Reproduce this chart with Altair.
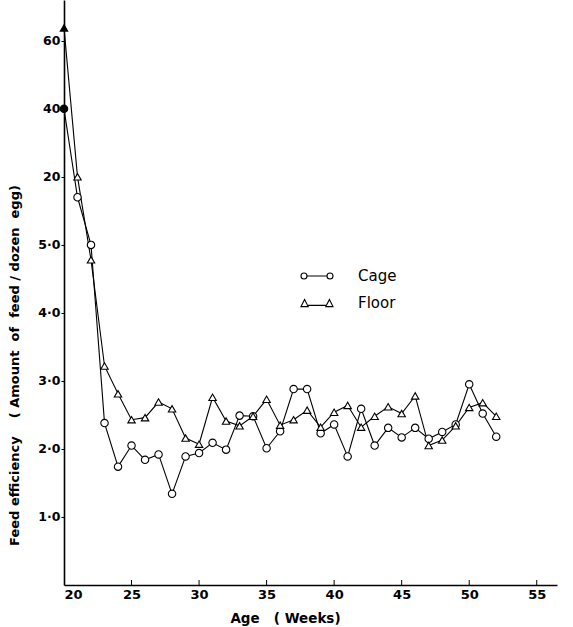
import altair as alt
import pandas as pd

# ---- data ----
weeks = list(range(20, 53))
# y positions on the drawn axis (1..5 = 1·0..5·0 ; 6,7,8 = ticks labelled 20, 40, 60)
cage = [7.0, 5.70, 5.0, 2.38, 1.74, 2.05, 1.84, 1.92, 1.34, 1.89, 1.94,
        2.09, 1.99, 2.49, 2.48, 2.01, 2.26, 2.88, 2.88, 2.23, 2.36,
        1.89, 2.59, 2.05, 2.31, 2.17, 2.31, 2.15, 2.25, 2.36, 2.95,
        2.52, 2.18]
floor = [8.19, 6.0, 4.78, 3.22, 2.81, 2.43, 2.46, 2.69, 2.59, 2.16, 2.07,
         2.76, 2.41, 2.34, 2.48, 2.73, 2.35, 2.43, 2.57, 2.32, 2.54,
         2.64, 2.32, 2.48, 2.62, 2.52, 2.78, 2.05, 2.13, 2.34, 2.61,
         2.68, 2.48]
series_names = ["Cage", "Floor"]
y_tick_values = [1, 2, 3, 4, 5, 6, 7, 8]
y_tick_labels = ["1·0", "2·0", "3·0", "4·0", "5·0", "20", "40", "60"]
x_tick_values = [20, 25, 30, 35, 40, 45, 50, 55]

df = pd.DataFrame({
    "week": weeks * 2,
    "value": cage + floor,
    "series": [series_names[0]] * len(weeks) + [series_names[1]] * len(weeks),
})
df["first"] = df["week"] == weeks[0]

FONT = "DejaVu Sans"
NB = "\u00a0"
label_expr = " : ".join(
    f"datum.value == {v} ? '{l}'" for v, l in zip(y_tick_values, y_tick_labels)
) + " : ''"

y_title = ("Feed" + NB + "efficiency" + NB * 4 + "(" + NB + "Amount" + NB * 2 + "of"
           + NB * 2 + "feed" + NB + "/" + NB + "dozen" + NB * 2 + "egg)")
x_title = "Age" + NB * 3 + "(" + NB + "Weeks)"

x_enc = alt.X(
    "week:Q",
    scale=alt.Scale(domain=[20, 56.5], nice=False, zero=False),
    axis=alt.Axis(
        values=x_tick_values, format="d", ticks=False, grid=False,
        labelFont=FONT, labelFontWeight="bold", labelFontSize=13,
        labelPadding=3, domainWidth=1.6,
        title=x_title, titleFont=FONT, titleFontWeight="bold",
        titleFontSize=13.5, titleX=221, titleY=37, titleAlign="center",
        titleBaseline="alphabetic",
    ),
)
y_enc = alt.Y(
    "value:Q",
    scale=alt.Scale(domain=[0, 8.6], nice=False, zero=True),
    axis=alt.Axis(
        values=y_tick_values, labelExpr=label_expr, grid=False,
        labelFont=FONT, labelFontWeight="bold", labelFontSize=12.5,
        tickSize=3, labelPadding=1, domainWidth=1.6,
        title=y_title,
        titleFont=FONT, titleFontWeight="bold", titleFontSize=13,
        titleAngle=270, titleX=-50, titleY=365, titleAlign="center",
        titleBaseline="middle",
    ),
)

lines = alt.Chart(df).mark_line(color="black", strokeWidth=1.1).encode(
    x=x_enc, y=y_enc, detail="series:N"
)

points = alt.Chart(df).mark_point(
    filled=True, stroke="black", strokeWidth=1.1, size=55, opacity=1
).encode(
    x="week:Q",
    y="value:Q",
    shape=alt.Shape(
        "series:N",
        scale=alt.Scale(domain=series_names, range=["circle", "triangle-up"]),
        legend=None,
    ),
    fill=alt.condition("datum.first", alt.value("black"), alt.value("white")),
)

cage_path = ("M-2,0A0.375,0.375 0 1,1 -1.25,0A0.375,0.375 0 1,1 -2,0Z "
             "M-1.25,0L1.25,0 "
             "M1.25,0A0.375,0.375 0 1,1 2,0A0.375,0.375 0 1,1 1.25,0Z")
floor_path = ("M-2,0.45L-1.55,-0.45L-1.1,0.45Z "
              "M-1.1,0.3L1.1,0.3 "
              "M1.1,0.45L1.55,-0.45L2,0.45Z")

legend_layer = alt.Chart(df).mark_point(
    opacity=0, filled=False, color="black", size=256
).encode(
    x="week:Q",
    y="value:Q",
    shape=alt.Shape(
        "series:N",
        scale=alt.Scale(domain=series_names, range=[cage_path, floor_path]),
        legend=alt.Legend(
            title=None, orient="none", legendX=244, legendY=267,
            padding=0, rowPadding=10, symbolSize=256,
            symbolOpacity=1, symbolStrokeColor="black",
            symbolFillColor="transparent", symbolStrokeWidth=1.1,
            labelFont=FONT, labelFontSize=15, labelColor="black",
            labelOffset=32,
        ),
    ),
)

ticks = alt.Chart(pd.DataFrame({"week": x_tick_values[1:]})).mark_rule(
    color="black", strokeWidth=1
).encode(x="week:Q", y=alt.value(585), y2=alt.value(580))

chart = alt.layer(lines, ticks, points, legend_layer).resolve_scale(
    shape="independent"
).properties(
    width=493, height=585,
    autosize=alt.AutoSizeParams(type="none"),
    padding={"left": 64, "top": 0, "right": 16, "bottom": 42},
    background="white",
).configure_view(stroke=None).configure_axis(
    labelColor="black", domainColor="black", tickColor="black", titleColor="black"
)

chart.save("out.html", embed_options={"renderer": "svg", "actions": False})
